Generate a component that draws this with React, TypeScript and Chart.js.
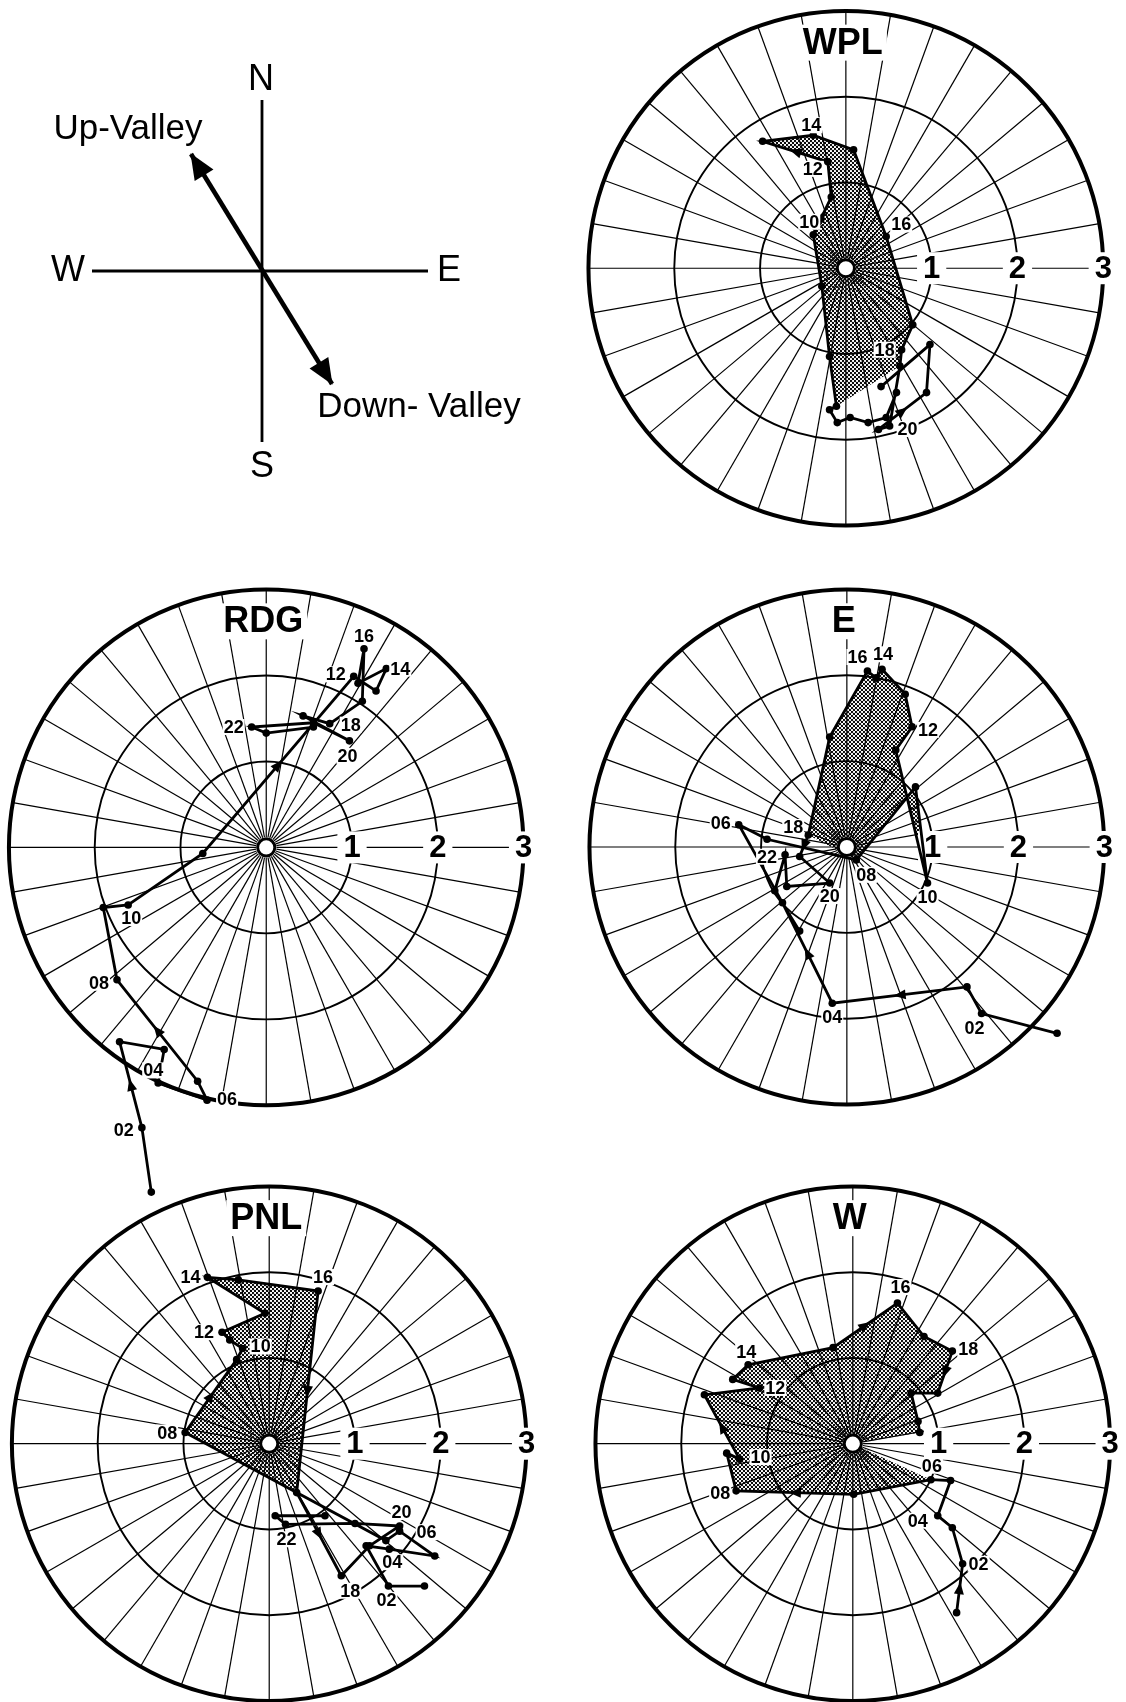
import React, { useEffect, useRef } from "react";
import { Chart, registerables } from "chart.js";

Chart.register(...registerables);

// ---------------- data ----------------
const HOURS = ["01","02","03","04","05","06","07","08","09","10","11","12","13","14","15","16","17","18","19","20","21","22","23","24"];
const LABELED_HOURS = ["02","04","06","08","10","12","14","16","18","20","22"];
const RING_VALUES = [1, 2, 3];
const RING_LABELS = ["1", "2", "3"];

// hourly wind-vector tips (u = east, v = north), m/s
const wplU = [0.59, 0.47, 0.26, 0.05, -0.10, -0.19, -0.11, -0.19, -0.28, -0.38, -0.17, -0.21, -0.97, -0.38, 0.09, 0.47, 0.78, 0.65, 0.63, 0.51, 0.38, 0.94, 0.98, 0.41];
const wplV = [-1.45, -1.74, -1.80, -1.74, -1.80, -1.65, -1.61, -1.03, -0.21, 0.39, 0.83, 1.24, 1.48, 1.55, 1.38, 0.37, -0.66, -0.95, -1.14, -1.84, -1.88, -1.45, -0.89, -1.38];

const rdgU = [-1.34, -1.45, -1.71, -1.19, -1.26, -0.69, -0.80, -1.74, -1.90, -1.61, -0.74, 1.02, 1.28, 1.40, 1.07, 1.14, 1.12, 0.74, 0.43, 0.97, 0.55, -0.17, 0.00, 0.55];
const rdgV = [-4.01, -3.26, -2.26, -2.35, -2.74, -2.94, -2.72, -1.54, -0.70, -0.67, -0.07, 1.99, 1.82, 2.08, 1.91, 2.31, 1.70, 1.44, 1.53, 1.24, 1.45, 1.40, 1.33, 1.40];

const eU = [2.45, 1.57, 1.40, -0.17, -0.75, -1.26, -0.93, 0.11, 0.80, 0.94, 0.57, 0.76, 0.68, 0.41, 0.34, 0.24, -0.20, -0.45, -0.55, -0.20, -0.70, -0.72, -0.84, -0.55];
const eV = [-2.17, -1.94, -1.63, -1.82, -0.65, 0.26, 0.09, -0.15, 0.70, -0.42, 1.13, 1.40, 1.78, 2.07, 1.97, 2.05, 1.28, 0.14, -0.11, -0.42, -0.46, -0.09, -0.51, -0.98];

const pnlU = [1.81, 1.39, 1.13, 1.40, 1.93, 1.52, 1.36, -0.98, -0.38, -0.31, -0.46, -0.55, -0.05, -0.72, -0.36, 0.57, 0.32, 0.84, 1.17, 1.52, 1.00, 0.19, 0.07, 0.65];
const pnlV = [-1.66, -1.66, -1.19, -1.23, -1.31, -1.02, -1.13, 0.13, 0.98, 1.11, 1.21, 1.30, 1.52, 1.94, 1.91, 1.78, -0.57, -1.54, -1.19, -0.96, -0.93, -0.94, -0.84, -0.84];

const wU = [1.21, 1.28, 1.16, 0.99, 1.14, 0.91, 0.01, -1.36, -1.47, -1.32, -1.73, -1.09, -1.40, -1.22, -0.23, 0.52, 0.83, 1.16, 0.99, 0.68, 0.76, 0.78, null, null];
const wV = [-1.97, -1.40, -0.98, -0.84, -0.43, -0.42, -0.59, -0.55, -0.11, -0.18, 0.57, 0.65, 0.75, 0.92, 1.12, 1.64, 1.25, 1.08, 0.59, 0.59, 0.26, 0.13, null, null];

// compass schematic (px offsets from the compass centre, y up)
const compassNS = [{ x: 0, y: 171 }, { x: 0, y: -171 }];
const compassWE = [{ x: -170, y: 0 }, { x: 166, y: 0 }];
const valleyAxis = [{ x: -71, y: 117 }, { x: 70, y: -113 }];
const compassLabels = [
  { text: "N", x: -1, y: 191 },
  { text: "S", x: 0, y: -196 },
  { text: "W", x: -194, y: 0 },
  { text: "E", x: 187, y: 0 },
];
const valleyLabels = [
  { text: "Up-Valley", x: -134, y: 142 },
  { text: "Down- Valley", x: 157, y: -136 },
];

// ---------------- layout / style ----------------
const PAGE_W = 1126;
const PAGE_H = 1702;
const UNIT = 87; // px per m/s
const EXT = 300;
const FONT = '"Liberation Sans", Arial, Helvetica, sans-serif';

const PANELS: any[] = [
  {
    name: "WPL", u: wplU, v: wplV, cx: 846, cy: 268,
    shade: ["07", "19"], shadeOrigin: false,
    arrows: ["10", "12", "21"],
    labels: { "10": [-4, -13], "12": [-15, 7], "14": [-2, -10], "16": [15, -12], "18": [-17, 0], "20": [18, 3] },
  },
  {
    name: "RDG", u: rdgU, v: rdgV, cx: 266, cy: 847, extDown: 370,
    shade: null, shadeOrigin: false,
    arrows: ["02", "07", "11"],
    labels: { "02": [-18, 2], "04": [-11, 21], "06": [20, -1], "08": [-18, 3], "10": [3, 13], "12": [-18, -2], "14": [14, 0], "16": [0, -13], "18": [21, 1], "20": [-2, 15], "22": [-18, 0] },
  },
  {
    name: "E", u: eU, v: eV, cx: 847, cy: 847,
    shade: ["08", "18"], shadeOrigin: false,
    arrows: ["03", "04", "18"],
    labels: { "02": [-7, 15], "04": [0, 14], "06": [-18, -2], "08": [10, 15], "10": [0, 14], "12": [16, 3], "14": [1, -15], "16": [-10, -14], "18": [-15, -8], "20": [0, 13], "22": [-18, 2] },
  },
  {
    name: "PNL", u: pnlU, v: pnlV, cx: 269, cy: 1444,
    shade: ["08", "17"], shadeOrigin: false,
    arrows: ["08", "16", "17"],
    labels: { "02": [-2, 14], "04": [3, 13], "06": [27, 1], "08": [-18, 0], "10": [18, -2], "12": [-18, 0], "14": [-17, 0], "16": [5, -14], "18": [9, 15], "20": [2, -14], "22": [1, 15] },
  },
  {
    name: "W", u: wU, v: wV, cx: 853, cy: 1444,
    shade: ["06", "22"], shadeOrigin: true,
    arrows: ["01", "07", "10", "15", "18"],
    labels: { "02": [16, 0], "04": [-20, 5], "06": [1, -14], "08": [-16, 2], "10": [21, -2], "12": [16, 0], "14": [-2, -13], "16": [3, -16], "18": [16, -2] },
  },
];

function makeStipple(ctx: CanvasRenderingContext2D) {
  const c = document.createElement("canvas");
  c.width = 4;
  c.height = 4;
  const g = c.getContext("2d") as CanvasRenderingContext2D;
  g.fillStyle = "#000";
  g.beginPath(); g.arc(1, 1, 1.15, 0, Math.PI * 2); g.fill();
  g.beginPath(); g.arc(3, 3, 1.15, 0, Math.PI * 2); g.fill();
  return ctx.createPattern(c, "repeat");
}

function drawArrowHead(ctx: any, x: number, y: number, ang: number, len: number, half: number) {
  ctx.save();
  ctx.translate(x, y);
  ctx.rotate(ang);
  ctx.beginPath();
  ctx.moveTo(len / 2, 0);
  ctx.lineTo(-len / 2, half);
  ctx.lineTo(-len / 2, -half);
  ctx.closePath();
  ctx.fill();
  ctx.restore();
}

function boxedText(ctx: any, text: string, x: number, y: number, font: string, padX: number, h: number) {
  ctx.font = font;
  const w = ctx.measureText(text).width;
  ctx.fillStyle = "#fff";
  ctx.fillRect(x - w / 2 - padX, y - h / 2, w + padX * 2, h);
  ctx.fillStyle = "#000";
  ctx.textAlign = "center";
  ctx.textBaseline = "middle";
  ctx.fillText(text, x, y + 1);
}

function makePolarPlugin(p: any) {
  return {
    id: "polar" + p.name,
    beforeDatasetsDraw(chart: any) {
      const ctx = chart.ctx;
      const X = (u: number) => chart.scales.x.getPixelForValue(u);
      const Y = (v: number) => chart.scales.y.getPixelForValue(v);
      const ox = X(0), oy = Y(0);
      const rx = X(1) - ox, ry = oy - Y(1);
      const outer = RING_VALUES[RING_VALUES.length - 1];
      const inner = 0.12;
      ctx.save();
      ctx.strokeStyle = "#000";
      // spokes every 10 degrees
      ctx.lineWidth = 1.2;
      for (let k = 0; k < 36; k++) {
        const a = (k * 10 * Math.PI) / 180;
        const c = Math.cos(a), s = Math.sin(a);
        ctx.beginPath();
        ctx.moveTo(X(inner * c), Y(inner * s));
        ctx.lineTo(X(outer * c), Y(outer * s));
        ctx.stroke();
      }
      // rings
      RING_VALUES.forEach((r) => {
        ctx.lineWidth = r === outer ? 4 : 1.9;
        ctx.beginPath();
        ctx.ellipse(ox, oy, rx * r, ry * r, 0, 0, Math.PI * 2);
        ctx.stroke();
      });
      // shaded daytime area
      if (p.shade) {
        const i0 = HOURS.indexOf(p.shade[0]);
        const i1 = HOURS.indexOf(p.shade[1]);
        ctx.beginPath();
        let first = true;
        if (p.shadeOrigin) { ctx.moveTo(ox, oy); first = false; }
        for (let i = i0; i <= i1; i++) {
          if (p.u[i] == null) continue;
          const px = X(p.u[i]), py = Y(p.v[i]);
          if (first) { ctx.moveTo(px, py); first = false; } else ctx.lineTo(px, py);
        }
        ctx.closePath();
        ctx.fillStyle = makeStipple(ctx);
        ctx.fill();
      }
      // inner circle
      ctx.fillStyle = "#fff";
      ctx.lineWidth = 3;
      ctx.beginPath();
      ctx.ellipse(ox, oy, rx * 0.1, ry * 0.1, 0, 0, Math.PI * 2);
      ctx.fill();
      ctx.stroke();
      // ring labels
      RING_VALUES.forEach((r, i) => {
        boxedText(ctx, RING_LABELS[i], X(r), oy, "bold 31px " + FONT, 6, 32);
      });
      // title
      boxedText(ctx, p.name, ox - 3, Y(2.63), "bold 36px " + FONT, 4, 36);
      ctx.restore();
    },
    afterDatasetsDraw(chart: any) {
      const ctx = chart.ctx;
      const X = (u: number) => chart.scales.x.getPixelForValue(u);
      const Y = (v: number) => chart.scales.y.getPixelForValue(v);
      ctx.save();
      ctx.fillStyle = "#000";
      // direction arrows on selected segments
      p.arrows.forEach((h: string) => {
        const i = HOURS.indexOf(h);
        if (i < 0 || i + 1 >= HOURS.length || p.u[i] == null || p.u[i + 1] == null) return;
        const x0 = X(p.u[i]), y0 = Y(p.v[i]), x1 = X(p.u[i + 1]), y1 = Y(p.v[i + 1]);
        drawArrowHead(ctx, (x0 + x1) / 2, (y0 + y1) / 2, Math.atan2(y1 - y0, x1 - x0), 12, 5);
      });
      // hour labels
      LABELED_HOURS.forEach((h) => {
        const off = p.labels[h];
        const i = HOURS.indexOf(h);
        if (!off || p.u[i] == null) return;
        boxedText(ctx, h, X(p.u[i]) + off[0], Y(p.v[i]) + off[1], "bold 18px " + FONT, 1, 16);
      });
      ctx.restore();
    },
  };
}

function PanelChart({ panel }: { panel: any }) {
  const ref = useRef<HTMLCanvasElement | null>(null);
  const left = Math.max(0, panel.cx - EXT);
  const right = Math.min(PAGE_W, panel.cx + EXT);
  const top = Math.max(0, panel.cy - EXT);
  const bottom = Math.min(PAGE_H, panel.cy + (panel.extDown || EXT));
  const w = right - left;
  const h = bottom - top;
  useEffect(() => {
    const pts: any[] = [];
    HOURS.forEach((_, i) => {
      if (panel.u[i] != null && panel.v[i] != null) pts.push({ x: panel.u[i], y: panel.v[i] });
    });
    const chart = new Chart(ref.current as HTMLCanvasElement, {
      type: "scatter",
      data: {
        datasets: [
          {
            data: pts,
            showLine: true,
            borderColor: "#000",
            borderWidth: 2.8,
            pointRadius: 3.8,
            pointBackgroundColor: "#000",
            pointBorderWidth: 0,
            tension: 0,
            clip: false,
          } as any,
        ],
      },
      options: {
        responsive: false,
        animation: false,
        devicePixelRatio: 1,
        events: [],
        layout: { padding: 0 },
        plugins: { legend: { display: false }, tooltip: { enabled: false } },
        scales: {
          x: { type: "linear", display: false, min: (left - panel.cx) / UNIT, max: (right - panel.cx) / UNIT },
          y: { type: "linear", display: false, min: (panel.cy - bottom) / UNIT, max: (panel.cy - top) / UNIT },
        },
      } as any,
      plugins: [makePolarPlugin(panel)],
    });
    return () => chart.destroy();
  }, []);
  return (
    <canvas
      ref={ref}
      width={w}
      height={h}
      style={{ position: "absolute", left, top, width: w, height: h }}
    />
  );
}

function CompassChart() {
  const ref = useRef<HTMLCanvasElement | null>(null);
  const cx = 262, cy = 271;
  const w = 560, h = 520;
  useEffect(() => {
    const plugin = {
      id: "compassText",
      afterDatasetsDraw(chart: any) {
        const ctx = chart.ctx;
        const X = (u: number) => chart.scales.x.getPixelForValue(u);
        const Y = (v: number) => chart.scales.y.getPixelForValue(v);
        ctx.save();
        ctx.fillStyle = "#000";
        // arrow heads at both ends of the valley axis
        const a = valleyAxis[0], b = valleyAxis[1];
        const ax = X(a.x), ay = Y(a.y), bx = X(b.x), by = Y(b.y);
        const ang = Math.atan2(by - ay, bx - ax);
        drawArrowHead(ctx, ax + 12 * Math.cos(ang), ay + 12 * Math.sin(ang), ang + Math.PI, 26, 11);
        drawArrowHead(ctx, bx - 12 * Math.cos(ang), by - 12 * Math.sin(ang), ang, 26, 11);
        ctx.textAlign = "center";
        ctx.textBaseline = "middle";
        ctx.font = "36px " + FONT;
        compassLabels.forEach((l) => ctx.fillText(l.text, X(l.x), Y(l.y)));
        ctx.font = "35px " + FONT;
        valleyLabels.forEach((l) => ctx.fillText(l.text, X(l.x), Y(l.y)));
        ctx.restore();
      },
    };
    const line = (data: any[], width: number) => ({
      data,
      showLine: true,
      borderColor: "#000",
      borderWidth: width,
      pointRadius: 0,
      tension: 0,
      clip: false,
    });
    const chart = new Chart(ref.current as HTMLCanvasElement, {
      type: "scatter",
      data: {
        datasets: [line(compassNS, 2.8), line(compassWE, 2.8), line(valleyAxis, 4.6)] as any,
      },
      options: {
        responsive: false,
        animation: false,
        devicePixelRatio: 1,
        events: [],
        layout: { padding: 0 },
        plugins: { legend: { display: false }, tooltip: { enabled: false } },
        scales: {
          x: { type: "linear", display: false, min: -cx, max: w - cx },
          y: { type: "linear", display: false, min: cy - h, max: cy },
        },
      } as any,
      plugins: [plugin],
    });
    return () => chart.destroy();
  }, []);
  return (
    <canvas
      ref={ref}
      width={w}
      height={h}
      style={{ position: "absolute", left: 0, top: 0, width: w, height: h }}
    />
  );
}

export default function App() {
  return (
    <div
      style={{
        position: "absolute",
        left: 0,
        top: 0,
        width: PAGE_W,
        height: PAGE_H,
        overflow: "hidden",
        background: "#fff",
      }}
    >
      <CompassChart />
      {PANELS.map((p) => (
        <PanelChart key={p.name} panel={p} />
      ))}
    </div>
  );
}
